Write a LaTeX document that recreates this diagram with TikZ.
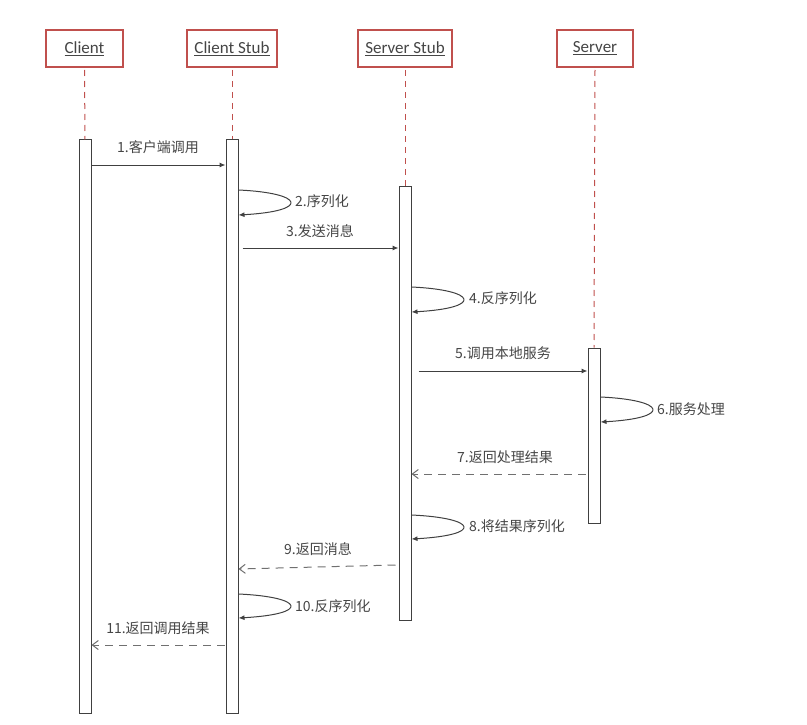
\documentclass[tikz,border=0pt]{standalone}
\usepackage{fontspec}
\setmainfont{Carlito}
\newfontfamily\cjk{Noto Sans CJK SC}
\usetikzlibrary{arrows.meta,calc}
\definecolor{headred}{HTML}{C0504D}
\definecolor{txt}{HTML}{454545}
\definecolor{ln}{HTML}{404040}
\tikzset{
  head/.style={draw=headred, line width=1.2pt, fill=white, minimum height=37pt, inner sep=0pt, text=txt, font=\fontsize{17}{19}\selectfont},
  life/.style={draw=headred, line width=1pt, dash pattern=on 6pt off 5pt},
  bar/.style={draw=ln, line width=1pt, fill=white, minimum width=12pt, inner sep=0pt},
  msg/.style={draw=ln, line width=1pt, -{Latex[length=6pt,width=5pt]}},
  ret/.style={draw=ln!75, line width=1pt, dash pattern=on 8pt off 6pt, -{Straight Barb[length=6pt,width=9pt]}},
  lbl/.style={text=txt, font=\cjk\fontsize{14}{16}\selectfont, inner sep=1pt}
}
\begin{document}
\begin{tikzpicture}[x=1pt,y=-1pt]
\useasboundingbox (0,0) rectangle (807,725);
% heads
\node[head, minimum width=77pt] (h1) at (84.5,48.5) {\underline{Client}};
\node[head, minimum width=90pt] (h2) at (232,48.5) {\underline{Client Stub}};
\node[head, minimum width=94pt] (h3) at (405,48.5) {\underline{Server Stub}};
\node[head, minimum width=76pt] (h4) at (595,48.5) {\underline{Server}};
% activation bars
\node[bar, minimum height=573pt] (b1) at (85,426.5) {};
\node[bar, minimum height=573pt] (b2) at (232,426.5) {};
\node[bar, minimum height=434pt] (b3) at (405,403) {};
\node[bar, minimum height=175pt] (b4) at (594,435.5) {};
% lifelines
\draw[life] (h1.south |- 0,70) -- (b1.north);
\draw[life] (h2.south |- 0,70) -- (b2.north);
\draw[life] (h3.south |- 0,70) -- (b3.north);
\draw[life] (h4.south |- 0,70) -- (b4.north);
% 1
\draw[msg] (b1.east |- 0,165) -- (b2.west |- 0,165);
\node[lbl] (l1) at (158,147) {1.客户端调用};
% 2
\draw[msg] (b2.east |- 0,190) .. controls +(66,3) and +(72,-4) .. (b2.east |- 0,215);
\node[lbl, anchor=west] (l2) at (294,201) {2.序列化};
% 3
\draw[msg] ($(b2.east |- 0,248)+(4,0)$) -- (b3.west |- 0,248);
\node[lbl] (l3) at (320,231) {3.发送消息};
% 4
\draw[msg] (b3.east |- 0,287) .. controls +(66,3) and +(72,-4) .. (b3.east |- 0,312);
\node[lbl, anchor=west] (l4) at (468,298) {4.反序列化};
% 5
\draw[msg] ($(b3.east |- 0,371)+(7,0)$) -- (b4.west |- 0,371);
\node[lbl] (l5) at (503,353) {5.调用本地服务};
% 6
\draw[msg] (b4.east |- 0,397) .. controls +(66,3) and +(72,-4) .. (b4.east |- 0,422);
\node[lbl, anchor=west] (l6) at (656,409) {6.服务处理};
% 7
\draw[ret] ($(b4.west |- 0,474)+(-2,0)$) -- (b3.east |- 0,474);
\node[lbl] (l7) at (505,457) {7.返回处理结果};
% 8
\draw[msg] (b3.east |- 0,515) .. controls +(66,3) and +(72,-4) .. (b3.east |- 0,539);
\node[lbl, anchor=west] (l8) at (468,526) {8.将结果序列化};
% 9
\draw[ret] ($(b3.west |- 0,565)+(-3,0)$) -- (b2.east |- 0,569);
\node[lbl] (l9) at (318,549) {9.返回消息};
% 10
\draw[msg] (b2.east |- 0,594) .. controls +(66,3) and +(72,-4) .. (b2.east |- 0,618);
\node[lbl, anchor=west] (l10) at (294,606) {10.反序列化};
% 11
\draw[ret] ($(b2.west |- 0,645)+(-1,0)$) -- (b1.east |- 0,645);
\node[lbl] (l11) at (158,628) {11.返回调用结果};
\end{tikzpicture}
\end{document}
